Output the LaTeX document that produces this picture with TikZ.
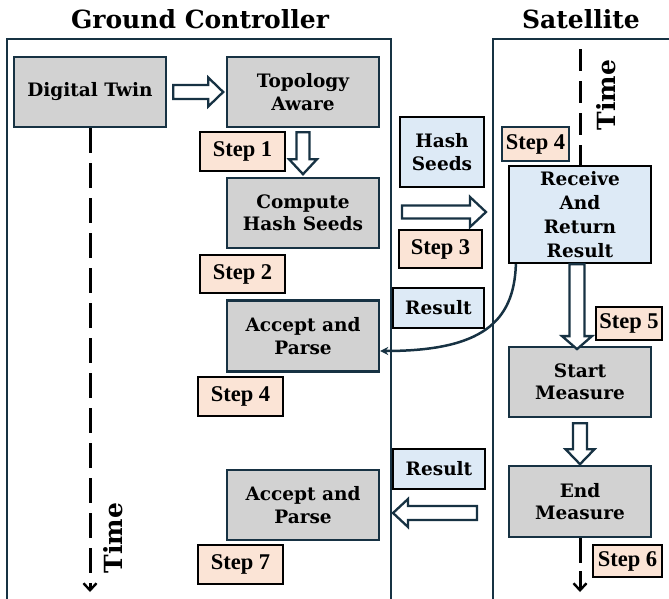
\documentclass[tikz,border=0pt]{standalone}
\usepackage{fontspec}
\setmainfont{DejaVu Serif}
\newfontfamily\stepfont{Liberation Serif}
\usetikzlibrary{arrows.meta,calc}
\definecolor{navy}{HTML}{173243}
\definecolor{boxgray}{HTML}{D2D2D2}
\definecolor{peach}{HTML}{FBE4D6}
\definecolor{boxblue}{HTML}{DDEAF6}
\tikzset{
  panel/.style={draw=navy, line width=2.2pt},
  gbox/.style={draw=navy, fill=boxgray, line width=2.4pt, minimum width=152pt, minimum height=70pt, align=center, inner sep=2pt},
  bbox/.style={draw=black, fill=boxblue, line width=2.2pt, align=center, inner sep=2pt},
  stepbox/.style={draw=black, fill=peach, line width=2.2pt, minimum width=85pt, minimum height=39pt, inner sep=1pt, font=\stepfont\bfseries\fontsize{22.5}{24}\selectfont},
  hollow/.style={draw=navy, fill=white, line width=2.3pt, line join=miter},
  timeline/.style={line width=3pt, dash pattern=on 25pt off 10pt, -{Straight Barb[length=7pt,width=13pt,line width=2.4pt]}},
  timeplain/.style={line width=3pt, dash pattern=on 22pt off 10pt},
  title/.style={font=\bfseries\fontsize{25}{30}\selectfont},
}
\newcommand\hollowarr[6]{% start, angle, length, shaft half, head half, head length
  \begin{scope}[shift={#1}, rotate=#2]
    \draw[hollow] (0,-#4) -- ({#3-#6},-#4) -- ({#3-#6},-#5) -- (#3,0) -- ({#3-#6},#5) -- ({#3-#6},#4) -- (0,#4) -- cycle;
  \end{scope}}
\begin{document}
\begin{tikzpicture}[x=1pt,y=-1pt, font=\bfseries\fontsize{18.5}{22.5}\selectfont]
\useasboundingbox (0,0) rectangle (669,598);
\clip (0,0) rectangle (669,598);

% titles
\node[title] (tgc) at (200,19) {Ground Controller};
\node[title] (tsat) at (581,19) {Satellite};

% panels
\draw[panel] (7,605) -- (7,39) -- (391,39) -- (391,605);
\draw[panel] (493,605) -- (493,39) -- (680,39);

% ground boxes
\node[gbox] (dt) at (90,92) {Digital Twin};
\node[gbox] (topo) at (303,92) {Topology\\Aware};
\node[gbox] (chs) at (303,213) {Compute\\Hash Seeds};
\node[gbox, minimum height=71pt] (ap1) at (303,336) {Accept and\\Parse};
\node[gbox] (ap2) at (303,505) {Accept and\\Parse};

\node[stepbox] (s1) at (242.5,151.5) {Step 1};
\node[stepbox, minimum height=38pt] (s2) at (242.5,274) {Step 2};
\node[stepbox] (s4l) at (240.5,396.5) {Step 4};
\node[stepbox] (s7) at (240.5,564.5) {Step 7};

% middle
\node[bbox, minimum width=84pt, minimum height=70pt] (hash) at (442,152) {Hash\\Seeds};
\node[stepbox, minimum width=83pt, minimum height=38pt] (s3) at (440.5,249) {Step 3};
\node[bbox, minimum width=91pt, minimum height=40pt] (res1) at (438.5,308) {Result};
\node[bbox, minimum width=92pt, minimum height=40pt] (res2) at (439,469) {Result};

% satellite
\node[stepbox, draw=navy, minimum width=67pt, minimum height=34pt] (s4r) at (535.5,144) {Step 4};
\node[bbox, minimum width=142pt, minimum height=97pt, font=\bfseries\fontsize{18.5}{24}\selectfont] (rrr) at (580,214.5) {Receive\\And\\Return\\Result};
\node[stepbox, minimum width=66pt, minimum height=33pt] (s5) at (629,323.5) {Step 5};
\node[gbox, minimum width=142pt] (sm) at (580,382) {Start\\Measure};
\node[gbox, minimum width=142pt, minimum height=71pt] (em) at (580,501.5) {End\\Measure};
\node[stepbox, minimum width=69pt, minimum height=32pt] (s6) at (627.5,561) {Step 6};

% time lines
\draw[timeline] (dt.south) -- (90,592);
\node[rotate=90, font=\bfseries\fontsize{25}{30}\selectfont] (timel) at (113,538) {Time};
\draw[timeplain] (580,49) -- (rrr.north);
\draw[timeline, dash pattern=on 25pt off 8pt] (em.south) -- (580,592);
\node[rotate=90, font=\bfseries\fontsize{25}{30}\selectfont] (timer) at (606,95) {Time};

% hollow arrows
\hollowarr{($(dt.east)+(6,0)$)}{0}{50}{7}{14.5}{15}
\hollowarr{($(topo.south)+(0,4)$)}{-90}{42}{6.5}{14}{15}
\hollowarr{(402,212)}{0}{84}{6.5}{15}{16}
\hollowarr{($(rrr.south)+(-3,0)$)}{-90}{85}{7.5}{15}{13}
\hollowarr{($(sm.south)+(0,5)$)}{-90}{41}{7}{14.5}{15}
\hollowarr{(477,513)}{180}{84}{7}{14}{15}

% curved return
\draw[navy, line width=2.5pt, -{Stealth[length=8pt,width=8pt]}] ($(rrr.south west)+(8,0)$) .. controls (514,322) and (482,351) .. ($(ap1.east)+(0,15)$);
\end{tikzpicture}
\end{document}
